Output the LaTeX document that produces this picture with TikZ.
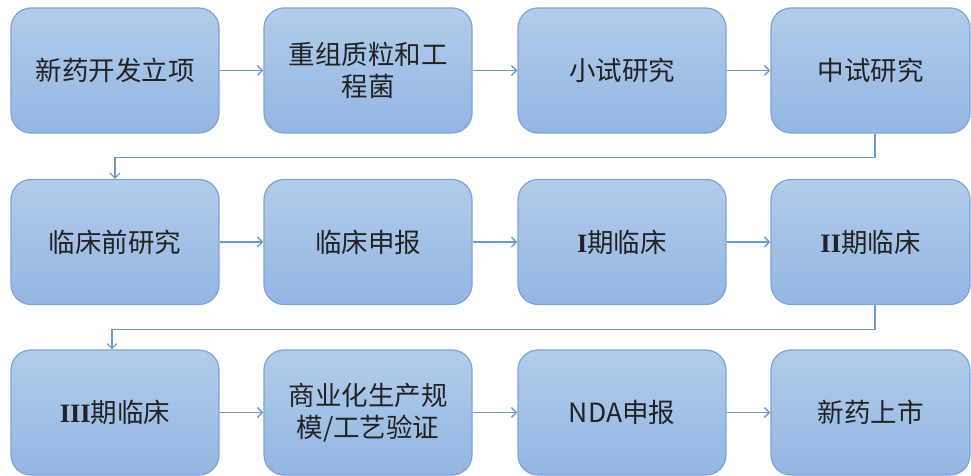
\documentclass[tikz,border=0pt]{standalone}
\usepackage{fontspec}
\newfontfamily\cjk{Noto Sans CJK SC}
\newfontfamily\romanfont{Liberation Serif}
\usetikzlibrary{arrows.meta,positioning,calc}
\definecolor{boxtop}{HTML}{B2CCEA}
\definecolor{boxbot}{HTML}{93B6E2}
\definecolor{boxline}{HTML}{7CA4D8}
\definecolor{conn}{HTML}{6F99D4}
\definecolor{txt}{HTML}{222222}
\tikzset{
  stepbox/.style={draw=boxline, line width=1.2pt, rounded corners=20pt,
    top color=boxtop, bottom color=boxbot, minimum height=125pt,
    inner sep=0pt, align=center, text=txt, font=\cjk\fontsize{26.5}{32}\selectfont},
  wide/.style={minimum width=208pt},
  narrow/.style={minimum width=199pt},
  flow/.style={draw=conn, line width=1.4pt, -{Straight Barb[length=5pt,width=10pt,line width=1.4pt]}},
  wrap/.style={draw=conn, line width=1.2pt, rounded corners=0pt, -{Straight Barb[length=5pt,width=10pt,line width=1.2pt]}}
}
\newcommand{\rn}[1]{{\romanfont\bfseries #1}}
\begin{document}
\begin{tikzpicture}[x=1pt,y=-1pt]
\useasboundingbox (0,0) rectangle (971,476);
% row 1
\node[stepbox,wide]   (b1) at (115,70.5) {新药开发立项};
\node[stepbox,wide]   (b2) at (368,70.5) {重组质粒和工\\程菌};
\node[stepbox,wide]   (b3) at (622,70.5) {小试研究};
\node[stepbox,narrow] (b4) at (870.5,70.5) {中试研究};
% row 2
\node[stepbox,wide]   (b5) at (115,242) {临床前研究};
\node[stepbox,wide]   (b6) at (368,242) {临床申报};
\node[stepbox,wide]   (b7) at (622,242) {\rn{I}期临床};
\node[stepbox,narrow] (b8) at (870.5,242) {\rn{II}期临床};
% row 3
\node[stepbox,wide]   (b9) at (115,412.5) {\rn{III}期临床};
\node[stepbox,wide]   (b10) at (368,412.5) {商业化生产规\\模/工艺验证};
\node[stepbox,wide]   (b11) at (622,412.5) {NDA申报};
\node[stepbox,narrow] (b12) at (870.5,412.5) {新药上市};
% horizontal arrows
\foreach \a/\b in {b1/b2,b2/b3,b3/b4,b5/b6,b6/b7,b7/b8,b9/b10,b10/b11,b11/b12}
  \draw[flow] (\a.east) -- (\b.west);
% wrap arrows
\coordinate (w1) at ([xshift=4.5pt]b4.south);
\coordinate (w2) at ([xshift=4.5pt]b8.south);
\draw[wrap] (w1) -- ++(0,24) -| (b5.north);
\draw[wrap] (w2) -- ++(0,24) -| ([xshift=-3pt]b9.north);
\end{tikzpicture}
\end{document}
